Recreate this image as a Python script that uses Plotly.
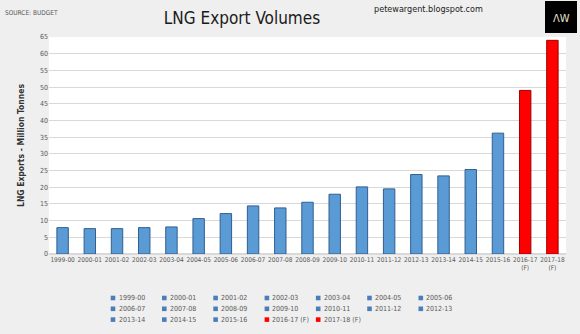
import plotly.graph_objects as go

# Financial years and LNG export volumes (million tonnes)
years = ["1999-00", "2000-01", "2001-02", "2002-03", "2003-04", "2004-05", "2005-06",
         "2006-07", "2007-08", "2008-09", "2009-10", "2010-11", "2011-12", "2012-13",
         "2013-14", "2014-15", "2015-16", "2016-17 (F)", "2017-18 (F)"]
volumes = [7.9, 7.6, 7.6, 7.9, 8.1, 10.6, 12.1, 14.4, 13.8, 15.5, 17.9, 20.1, 19.5,
           23.8, 23.4, 25.3, 36.2, 49.0, 64.0]
forecast = [False] * 17 + [True, True]
tick_labels = [y.replace(" (F)", "<br>(F)") for y in years]
y_ticks = list(range(0, 66, 5))

BLUE, BLUE_EDGE = "#5b9bd5", "#2f5f8f"
RED, RED_EDGE = "#ff0000", "#a00000"
BG = "#efefef"
NARROW = "DejaVu Sans Condensed, Liberation Sans"
W, H = 580, 334
ML, MR, MT, MB = 49, 14, 37, 80
PW, PH = W - ML - MR, H - MT - MB

fig = go.Figure()
for yr, lab, v, fc in zip(years, tick_labels, volumes, forecast):
    fig.add_trace(go.Bar(
        x=[lab], y=[v], name=yr, width=0.42,
        marker=dict(color=RED if fc else BLUE,
                    line=dict(color=RED_EDGE if fc else BLUE_EDGE, width=1)),
        showlegend=False,
        hovertemplate="%{x}: %{y}<extra></extra>",
    ))

# Legend laid out as a 7-column grid below the chart
shapes, annotations = [], []
cols = 7
for i, (yr, fc) in enumerate(zip(years, forecast)):
    r, c = divmod(i, cols)
    px = 113 + c * 51.3
    py = 298 + r * 10.8
    x0 = (px - ML) / PW
    yc = (H - MB - py) / PH
    sq = 2.3
    shapes.append(dict(type="rect", xref="paper", yref="paper",
                       x0=x0 - sq / PW, x1=x0 + sq / PW,
                       y0=yc - sq / PH, y1=yc + sq / PH,
                       fillcolor=RED if fc else "#4a7ebb", line=dict(width=0)))
    annotations.append(dict(xref="paper", yref="paper", x=x0 + 3.5 / PW, y=yc,
                            xanchor="left", yanchor="middle", showarrow=False,
                            text=yr, font=dict(size=7, color="#595959", family=NARROW)))

# Header texts and logo box
annotations += [
    dict(xref="paper", yref="paper", x=(3 - ML) / PW, y=(H - MB - 13) / PH,
         xanchor="left", yanchor="middle", showarrow=False, text="SOURCE: BUDGET",
         font=dict(size=6.5, color="#595959", family=NARROW)),
    dict(xref="paper", yref="paper", x=(485 - ML) / PW, y=(H - MB - 9) / PH,
         xanchor="right", yanchor="middle", showarrow=False,
         text="petewargent.blogspot.com", font=dict(size=9, color="#222222")),
    dict(xref="paper", yref="paper", x=(561 - ML) / PW, y=(H - MB - 18) / PH,
         xanchor="center", yanchor="middle", showarrow=False, text="ΛW",
         font=dict(size=11, color="#e8e0c8")),
]
shapes.append(dict(type="rect", xref="paper", yref="paper",
                   x0=(545 - ML) / PW, x1=(577 - ML) / PW,
                   y0=(H - MB - 33) / PH, y1=(H - MB - 1) / PH,
                   fillcolor="#000000", line=dict(width=0), layer="above"))

fig.update_layout(
    width=W, height=H,
    margin=dict(l=ML, r=MR, t=MT, b=MB),
    paper_bgcolor=BG, plot_bgcolor="white",
    barmode="overlay", bargap=0.58,
    font=dict(family=NARROW, color="#595959"),
    title=dict(text="LNG Export Volumes", x=242 / W, xanchor="center",
               y=1 - 18 / H, yanchor="middle", xref="container", yref="container",
               font=dict(size=17, color="#1a1a1a", family=NARROW)),
    xaxis=dict(type="category", categoryorder="array", categoryarray=tick_labels,
               showgrid=False, showline=False, ticks="",
               tickfont=dict(size=6.5, color="#595959"), tickangle=0),
    yaxis=dict(range=[0, 65], tickvals=y_ticks, showgrid=True, gridcolor="#d9d9d9",
               gridwidth=1, zeroline=True, zerolinecolor="#d9d9d9", ticks="",
               tickfont=dict(size=7, color="#595959"),
               title=dict(text="<b>LNG Exports - Million Tonnes</b>", standoff=14,
                          font=dict(size=8.5, color="#333333", family=NARROW))),
    shapes=shapes, annotations=annotations,
    showlegend=False,
)

fig.write_html("out.html")
